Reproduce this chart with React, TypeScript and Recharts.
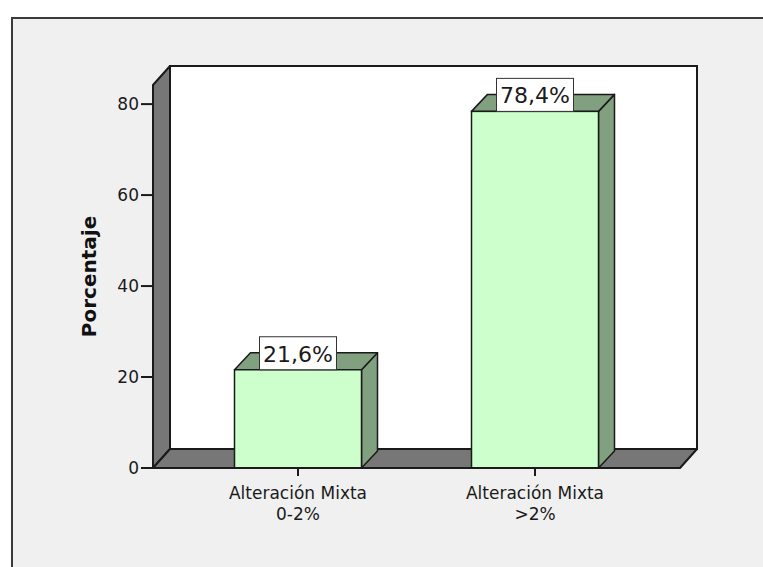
import React from "react"
import { BarChart, Bar, XAxis, YAxis, LabelList } from "recharts"

// categories, values and axis ticks
const categories = ["Alteración Mixta\n0-2%", "Alteración Mixta\n>2%"]
const percentages = [21.6, 78.4]
const yTicks = [0, 20, 40, 60, 80]
const yMax = 84.2

const data = categories.map((name, i) => ({ name, value: percentages[i] }))

// layout
const W = 763
const H = 567
const margin = { top: 85, right: 83, bottom: 39, left: 83 }
const yAxisWidth = 70
const xAxisHeight = 60
const plotLeft = margin.left + yAxisWidth
const plotRight = W - margin.right
const plotTop = margin.top
const plotBottom = H - margin.bottom - xAxisHeight

// 3D depth of walls and bars
const wallDx = 17
const wallDy = -19
const barDx = 16
const barDy = -17

const font = "'DejaVu Sans', sans-serif"
const edge = "#1a1a1a"
const wallGray = "#777777"
const barFront = "#ccffcc"
const barSide = "#80a080"

function Bar3D(props: any) {
  const { x, y, width, height } = props
  if (!height || height <= 0) return null
  const top = `${x},${y} ${x + barDx},${y + barDy} ${x + width + barDx},${y + barDy} ${x + width},${y}`
  const side = `${x + width},${y} ${x + width + barDx},${y + barDy} ${x + width + barDx},${y + height + barDy} ${x + width},${y + height}`
  return (
    <g>
      <polygon points={side} fill={barSide} stroke={edge} strokeWidth={1.5} strokeLinejoin="round" />
      <polygon points={top} fill={barSide} stroke={edge} strokeWidth={1.5} strokeLinejoin="round" />
      <rect x={x} y={y} width={width} height={height} fill={barFront} stroke={edge} strokeWidth={1.5} />
    </g>
  )
}

function ValueBox(props: any) {
  const { x, y, width, value } = props
  const cx = x + width / 2
  const bw = 77
  const bh = 33
  const text = `${Number(value).toFixed(1).replace(".", ",")}%`
  return (
    <g>
      <rect x={cx - bw / 2} y={y - bh} width={bw} height={bh} fill="#ffffff" stroke="#333" strokeWidth={1} />
      <text x={cx} y={y - 8} textAnchor="middle" fontFamily={font} fontSize={22} fill="#1a1a1a">
        {text}
      </text>
    </g>
  )
}

function CategoryTick(props: any) {
  const { x, y, payload } = props
  const lines = String(payload.value).split("\n")
  return (
    <g>
      {lines.map((line, i) => (
        <text key={i} x={x} y={y + 21 + i * 21} textAnchor="middle" fontFamily={font} fontSize={17} fill="#1a1a1a">
          {line}
        </text>
      ))}
    </g>
  )
}

function Walls() {
  const bl = plotLeft + wallDx
  const bt = plotTop + wallDy
  const br = plotRight + wallDx
  const bb = plotBottom + wallDy
  return (
    <svg width={W} height={H} style={{ position: "absolute", left: 0, top: 0 }}>
      <rect x={0} y={0} width={W} height={H} fill="#ffffff" />
      <rect x={12} y={18} width={W + 20} height={H + 20} fill="#f0f0f0" stroke="#3a3a3a" strokeWidth={2} />
      <rect x={bl} y={bt} width={br - bl} height={bb - bt} fill="#ffffff" stroke={edge} strokeWidth={2} />
      <polygon
        points={`${plotLeft},${plotTop} ${bl},${bt} ${bl},${bb} ${plotLeft},${plotBottom}`}
        fill={wallGray}
        stroke={edge}
        strokeWidth={2}
        strokeLinejoin="round"
      />
      <polygon
        points={`${plotLeft},${plotBottom} ${bl},${bb} ${br},${bb} ${plotRight},${plotBottom}`}
        fill={wallGray}
        stroke={edge}
        strokeWidth={2}
        strokeLinejoin="round"
      />
    </svg>
  )
}

export default function App() {
  return (
    <div style={{ position: "absolute", left: 0, top: 0, width: W, height: H, overflow: "hidden" }}>
      <Walls />
      <div style={{ position: "absolute", left: 0, top: 0 }}>
        <BarChart width={W} height={H} data={data} margin={margin}>
          <XAxis
            dataKey="name"
            height={xAxisHeight}
            padding={{ left: 26.5, right: 26.5 }}
            axisLine={{ stroke: edge, strokeWidth: 2 }}
            tickLine={{ stroke: edge, strokeWidth: 2 }}
            tickSize={8}
            tick={<CategoryTick />}
            interval={0}
          />
          <YAxis
            type="number"
            domain={[0, yMax]}
            ticks={yTicks}
            width={yAxisWidth}
            axisLine={{ stroke: edge, strokeWidth: 2 }}
            tickLine={{ stroke: edge, strokeWidth: 2 }}
            tickSize={12}
            tickMargin={2}
            tick={{ fontFamily: font, fontSize: 17, fill: "#1a1a1a" }}
            label={{
              value: "Porcentaje",
              angle: -90,
              position: "insideLeft",
              offset: 6,
              style: { textAnchor: "middle", fontFamily: font, fontSize: 20, fontWeight: "bold", fill: "#111" },
            }}
          />
          <Bar dataKey="value" barSize={127} shape={<Bar3D />} isAnimationActive={false}>
            <LabelList dataKey="value" content={<ValueBox />} />
          </Bar>
        </BarChart>
      </div>
    </div>
  )
}
